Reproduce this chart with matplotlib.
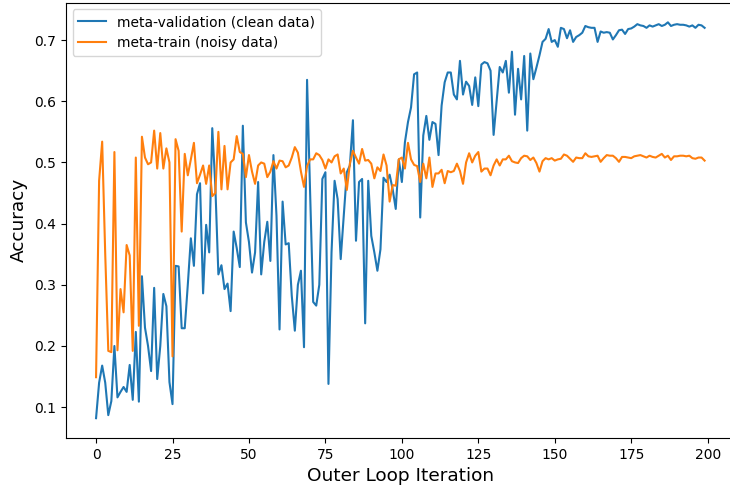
import matplotlib
matplotlib.use("Agg")
import matplotlib.pyplot as plt
import numpy as np

meta_val = [
    0.082, 0.14, 0.168, 0.14, 0.087, 0.11, 0.2, 0.116, 0.125, 0.133,
    0.125, 0.169, 0.112, 0.223, 0.109, 0.314, 0.23, 0.2, 0.159, 0.295,
    0.146, 0.2, 0.285, 0.265, 0.141, 0.105, 0.331, 0.33, 0.229, 0.229,
    0.3, 0.376, 0.331, 0.448, 0.466, 0.286, 0.398, 0.353, 0.556, 0.462,
    0.317, 0.332, 0.293, 0.302, 0.257, 0.387, 0.36, 0.329, 0.56, 0.402,
    0.37, 0.32, 0.353, 0.468, 0.317, 0.37, 0.403, 0.339, 0.512, 0.413,
    0.227, 0.436, 0.366, 0.368, 0.282, 0.225, 0.3, 0.323, 0.198, 0.635,
    0.45, 0.272, 0.266, 0.3, 0.473, 0.484, 0.138, 0.353, 0.47, 0.44,
    0.342, 0.413, 0.484, 0.495, 0.569, 0.372, 0.468, 0.473, 0.237, 0.47,
    0.38, 0.353, 0.323, 0.358, 0.475, 0.468, 0.48, 0.456, 0.424, 0.505,
    0.468, 0.533, 0.566, 0.59, 0.644, 0.647, 0.41, 0.544, 0.576, 0.537,
    0.566, 0.563, 0.512, 0.593, 0.631, 0.647, 0.647, 0.611, 0.603, 0.666,
    0.611, 0.632, 0.625, 0.594, 0.639, 0.592, 0.66, 0.664, 0.662, 0.65,
    0.545, 0.6, 0.656, 0.647, 0.666, 0.614, 0.681, 0.578, 0.653, 0.603,
    0.674, 0.552, 0.678, 0.636, 0.655, 0.675, 0.697, 0.702, 0.718, 0.697,
    0.7, 0.689, 0.72, 0.718, 0.703, 0.716, 0.697, 0.705, 0.708, 0.712,
    0.723, 0.721, 0.72, 0.72, 0.697, 0.714, 0.712, 0.713, 0.712, 0.701,
    0.708, 0.716, 0.717, 0.71, 0.718, 0.719, 0.722, 0.726, 0.724, 0.723,
    0.72, 0.724, 0.722, 0.724, 0.726, 0.723, 0.725, 0.729, 0.723, 0.725,
    0.726, 0.725, 0.725, 0.724, 0.722, 0.724, 0.72, 0.725, 0.724, 0.72,
]

meta_train = [
    0.149, 0.47, 0.534, 0.35, 0.192, 0.19, 0.517, 0.193, 0.293, 0.255,
    0.365, 0.348, 0.192, 0.508, 0.233, 0.542, 0.508, 0.497, 0.5, 0.552,
    0.49, 0.548, 0.49, 0.523, 0.5, 0.183, 0.538, 0.519, 0.387, 0.514,
    0.479, 0.505, 0.532, 0.466, 0.48, 0.495, 0.465, 0.495, 0.445, 0.45,
    0.55, 0.456, 0.527, 0.456, 0.5, 0.505, 0.543, 0.517, 0.514, 0.476,
    0.512, 0.485, 0.465, 0.495, 0.5, 0.498, 0.476, 0.485, 0.502, 0.49,
    0.503, 0.502, 0.492, 0.495, 0.508, 0.525, 0.516, 0.485, 0.46, 0.494,
    0.505, 0.505, 0.515, 0.512, 0.504, 0.49, 0.505, 0.5, 0.51, 0.513,
    0.482, 0.49, 0.455, 0.498, 0.519, 0.508, 0.498, 0.522, 0.503, 0.504,
    0.498, 0.474, 0.492, 0.486, 0.513, 0.495, 0.436, 0.463, 0.462, 0.505,
    0.508, 0.49, 0.532, 0.505, 0.496, 0.494, 0.468, 0.498, 0.474, 0.508,
    0.46, 0.482, 0.482, 0.488, 0.466, 0.486, 0.484, 0.486, 0.498, 0.486,
    0.465, 0.5, 0.515, 0.5, 0.511, 0.517, 0.485, 0.49, 0.49, 0.479,
    0.495, 0.505, 0.495, 0.505, 0.505, 0.511, 0.502, 0.5, 0.499, 0.507,
    0.511, 0.51, 0.504, 0.508, 0.499, 0.485, 0.502, 0.507, 0.505, 0.507,
    0.503, 0.505, 0.506, 0.513, 0.511, 0.506, 0.501, 0.508, 0.507, 0.507,
    0.515, 0.51, 0.509, 0.51, 0.511, 0.501, 0.507, 0.512, 0.511, 0.511,
    0.507, 0.501, 0.509, 0.509, 0.508, 0.507, 0.51, 0.511, 0.512, 0.51,
    0.508, 0.511, 0.509, 0.508, 0.511, 0.514, 0.508, 0.511, 0.504, 0.51,
    0.51, 0.511, 0.511, 0.51, 0.511, 0.507, 0.506, 0.508, 0.508, 0.503,
]

iterations = np.arange(len(meta_val))

fig = plt.figure(figsize=(7.3, 4.86), dpi=100)
ax = fig.add_axes([0.0899, 0.0988, 0.917, 0.896])
ax.plot(iterations, meta_val, color="#1f77b4", lw=1.5, label="meta-validation (clean data)")
ax.plot(iterations, meta_train, color="#ff7f0e", lw=1.5, label="meta-train (noisy data)")
ax.set_xlabel("Outer Loop Iteration", fontsize=13.3)
ax.set_ylabel("Accuracy", fontsize=13.3)
ax.legend(loc="upper left")
fig.savefig("out.png", dpi=100)
